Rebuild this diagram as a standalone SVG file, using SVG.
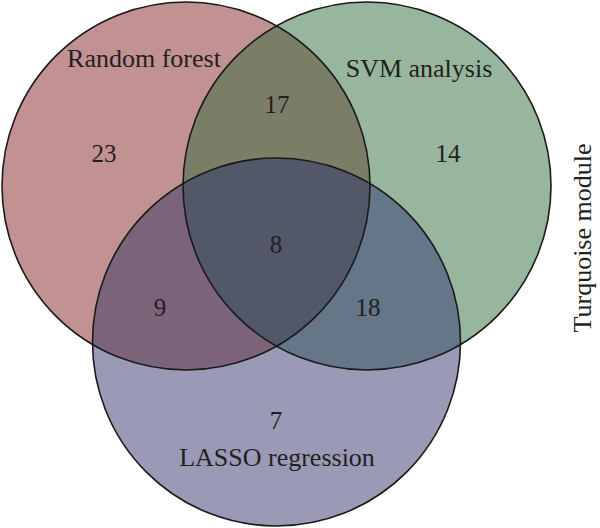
<svg xmlns="http://www.w3.org/2000/svg" width="600" height="528" viewBox="0 0 600 528">
<style>
  .lbl { font-family: "Liberation Serif", "DejaVu Serif", serif; font-size: 26px; fill: #231f20; text-anchor: middle; }
  .num { font-family: "Liberation Serif", "DejaVu Serif", serif; font-size: 25px; fill: #231f20; text-anchor: middle; }
  .outline { fill: none; stroke: #1a1a1a; stroke-width: 1.6; }
</style>
<defs>
  <circle id="cR" cx="186" cy="186" r="184"/>
  <circle id="cG" cx="367" cy="186" r="184"/>
  <circle id="cB" cx="276.5" cy="342" r="184"/>
  <clipPath id="clipR"><use href="#cR"/></clipPath>
  <clipPath id="clipG"><use href="#cG"/></clipPath>
</defs>
<rect width="600" height="528" fill="#ffffff"/>
<g id="fills">
  <use href="#cR" fill="#c29192"/>
  <use href="#cG" fill="#97b69d"/>
  <use href="#cB" fill="#9a9ab6"/>
  <use href="#cG" fill="#7b7e66" clip-path="url(#clipR)"/>
  <use href="#cB" fill="#7b6479" clip-path="url(#clipR)"/>
  <use href="#cB" fill="#647687" clip-path="url(#clipG)"/>
  <g clip-path="url(#clipG)"><use href="#cB" fill="#525867" clip-path="url(#clipR)"/></g>
</g>
<g id="random-forest">
  <use href="#cR" class="outline"/>
  <text class="lbl" x="144" y="67">Random forest</text>
  <text class="num" x="104" y="162">23</text>
</g>
<g id="svm-analysis">
  <use href="#cG" class="outline"/>
  <text class="lbl" x="419" y="77">SVM analysis</text>
  <text class="num" x="448" y="162">14</text>
</g>
<g id="lasso-regression">
  <use href="#cB" class="outline"/>
  <text class="num" x="276" y="429">7</text>
  <text class="lbl" x="277" y="466">LASSO regression</text>
</g>
<g id="intersections">
  <text class="num" x="277" y="113">17</text>
  <text class="num" x="160" y="316">9</text>
  <text class="num" x="368" y="316">18</text>
  <text class="num" x="276" y="253">8</text>
</g>
<g id="title">
  <text class="lbl" transform="translate(591,238) rotate(-90)">Turquoise module</text>
</g>
</svg>
